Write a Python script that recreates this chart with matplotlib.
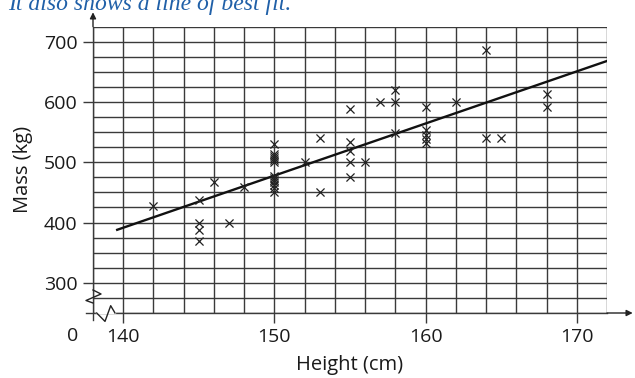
"""
Scatter of height vs mass with a line of best fit, on graph-paper grid
"""

import numpy as np
import matplotlib.pyplot as plt

# Data
height = [142, 145, 145, 145, 145, 146, 147, 148,
          150, 150, 150, 150, 150, 150, 150, 150, 150, 150, 150, 150, 150,
          152, 153, 153, 155, 155, 155, 155, 155, 156, 157, 158, 158, 158,
          160, 160, 160, 160, 160, 162, 164, 164, 165, 168, 168]
mass = [428, 437, 400, 387, 369, 468, 400, 459,
        530, 514, 510, 507, 504, 500, 478, 474, 470, 467, 463, 458, 450,
        500, 540, 450, 588, 533, 518, 500, 475, 500, 600, 620, 600, 548,
        591, 553, 545, 538, 532, 600, 686, 541, 541, 613, 591]

fit_x = [139.6, 172]
fit_y = [388, 668]

x_ticks = [140, 150, 160, 170]
y_ticks = [300, 400, 500, 600, 700]

xmin, xmax = 138, 172
ymin, ymax = 250, 725

plt.rcParams['font.family'] = ['Open Sans', 'DejaVu Sans']

fig = plt.figure(figsize=(6.35, 3.78), dpi=100)
ax = fig.add_axes([93/635, 1 - 313/378, (607 - 93)/635, (313 - 26.6)/378])

grid_col = '#3a3a3a'
text_col = '#1a1a1a'
for gx in np.arange(xmin, xmax + 0.1, 2):
    ax.axvline(gx, color=grid_col, lw=1.0, zorder=1)
for gy in np.arange(ymin, ymax + 0.1, 25):
    ax.axhline(gy, color=grid_col, lw=1.0, zorder=1)

ax.plot(fit_x, fit_y, color='#111111', lw=1.7, zorder=3)
ax.scatter(height, mass, marker='x', s=34, color='#222222', linewidths=0.9, zorder=4)

ax.set_xlim(xmin, xmax)
ax.set_ylim(ymin, ymax)
ax.set_xticks(x_ticks)
ax.set_yticks(y_ticks)
ax.tick_params(axis='both', length=7, width=1, color=grid_col, labelsize=14,
               labelcolor=text_col, pad=4)
for s in ['top', 'right']:
    ax.spines[s].set_visible(False)
for s in ['left', 'bottom']:
    ax.spines[s].set_color(grid_col)
    ax.spines[s].set_linewidth(1.0)
ax.spines['left'].set_bounds(ymin - 12, ymax)
ax.spines['bottom'].set_bounds(xmin - 0.45, xmax)

# arrows on axes
arrow = dict(arrowstyle='-|>', color='#222222', lw=1.0, mutation_scale=9,
             shrinkA=0, shrinkB=0)
ax.annotate('', xy=(1.05, 0), xytext=(1.0, 0), xycoords='axes fraction',
            arrowprops=arrow, annotation_clip=False)
ax.annotate('', xy=(0, 1.05), xytext=(0, 1.0), xycoords='axes fraction',
            arrowprops=arrow, annotation_clip=False)

# break marks (zigzags), sized in pixels
px = (xmax - xmin) / 514.0
py = (ymax - ymin) / 286.4
ax.plot(xmin + np.array([0, 8, -7, 0]) * px,
        ymin + np.array([23, 19, 12.5, 10]) * py,
        color='#222222', lw=1.0, clip_on=False, zorder=5)
ax.plot([xmin + 3.7 * px, xmin + 22 * px], [ymin, ymin], color='white', lw=1.6,
        clip_on=False, zorder=4.5)
ax.plot(xmin + np.array([3.7, 12, 17.7, 22]) * px,
        ymin + np.array([0, -8.4, 7.3, 0]) * py,
        color='#222222', lw=1.0, clip_on=False, zorder=5)

ax.text(xmin - 20 * px, ymin - 14 * py, '0', ha='center', va='top', fontsize=14,
        color=text_col)

ax.set_xlabel('Height (cm)', fontsize=14.5, color=text_col, labelpad=6)
ax.set_ylabel('Mass (kg)', fontsize=14.5, color=text_col, labelpad=8)

fig.text(8/635, 1 - 10/378, 'It also shows a line of best fit.', fontsize=17,
         style='italic', family='Liberation Serif', color='#2060a8',
         ha='left', va='baseline')

plt.savefig('out.png', dpi=100)
